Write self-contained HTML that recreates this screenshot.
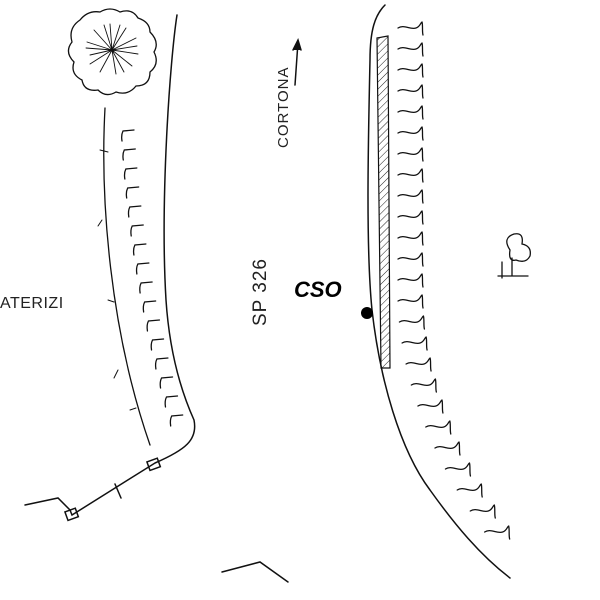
<!DOCTYPE html>
<html><head><style>body{margin:0;background:#fff}svg{display:block}</style></head>
<body>
<svg id="s" width="600" height="600" viewBox="0 0 600 600" xmlns="http://www.w3.org/2000/svg" fill="none" stroke="#111" stroke-width="1.5" stroke-linecap="round">
<defs><pattern id="h" width="5" height="5" patternUnits="userSpaceOnUse" patternTransform="rotate(45)"><line x1="0" y1="0" x2="0" y2="5" stroke="#222" stroke-width="1"/></pattern></defs>
<path d="M80,20 q8,-10 20,-8 q10,-6 20,0 q12,-4 18,6 q12,4 12,14 q10,10 4,20 q6,12 -4,20 q0,14 -14,14 q-8,10 -20,6 q-10,6 -18,-2 q-14,2 -16,-10 q-12,-6 -8,-18 q-10,-10 -2,-20 q-4,-14 8,-22z" stroke-width="1.3"/>
<g stroke-width="0.9"><path d="M112,50 l-25,-8 M112,50 l-22,5 M112,50 l-18,-20 M112,50 l-2,-26 M112,50 l14,-22 M112,50 l24,-12 M112,50 l26,4 M112,50 l20,16 M112,50 l4,24 M112,50 l-12,22 M112,50 l-22,14 M112,50 l-26,-2 M112,50 l8,-25 M112,50 l-8,-25 M112,50 l25,-4 M112,50 l12,22"/></g>
<path d="M177,15 C170,60 160,200 166,300 C170,360 185,400 194,420 C198,440 185,450 155,463 L72,515 L70,510 L58,498 L25,505"/>
<rect x="66" y="510" width="11" height="9" transform="rotate(-20 71 514)"/>
<rect x="148" y="460" width="11" height="9" transform="rotate(-20 153 464)"/>
<path d="M115,484 l6,14"/>
<path d="M105,108 C100,200 110,330 150,445" stroke-width="1.3"/>
<path d="M100,150 l8,2 M102,220 l-4,6 M108,300 l6,2 M118,370 l-4,8 M130,410 l6,-2" stroke-width="1"/>
<g id="lt" stroke-width="1.3"></g>
<path d="M385,5 C375,15 370,30 370,60 C368,150 366,250 372,310 C380,380 400,450 430,490 C455,525 480,555 510,578"/>
<path d="M377,38 L388,36 L390,368 L381,368 Z" fill="url(#h)" stroke-width="1.2"/>
<g id="rt" stroke-width="1.3"></g>
<path d="M222,572 L260,562 L288,582"/>
<path d="M295,85 L298,42"/><path d="M293,50 L298,40 L301,50" fill="#111"/>
<path d="M510,250 q-8,-12 4,-16 q10,-2 8,10 q10,2 8,12 q-4,8 -14,4 q-8,2 -6,-10z M512,258 L512,276 M498,276 L528,276 M502,262 L502,278" stroke-width="1.3"/>
<circle cx="367" cy="313" r="6" fill="#000" stroke="none"/>
<g fill="#222" stroke="none" font-family="Liberation Sans, sans-serif">
<text transform="translate(288,148) rotate(-90)" font-size="15" letter-spacing="1">CORTONA</text>
<text transform="translate(266,326) rotate(-90)" font-size="19" letter-spacing="1">SP 326</text>
<text x="0" y="308" font-size="16" letter-spacing="0.5">ATERIZI</text>
<text x="294" y="297" font-size="22" font-weight="bold" font-style="italic" fill="#000">CSO</text>
</g>
</svg>
<script>
var ns="http://www.w3.org/2000/svg";
var lt=document.getElementById('lt'),rt=document.getElementById('rt');
for(var y=130;y<=432;y+=19){var t=(y-130)/300;var x=120+t*t*35+t*18;var p=document.createElementNS(ns,'path');
p.setAttribute('d','M'+(x+14)+','+y+' l-11,1 q-2,4 -1,10');lt.appendChild(p);}
for(var y=28;y<=552;y+=21){var t=Math.max(0,(y-300)/250);var x=398+t*t*92+t*8;var p=document.createElementNS(ns,'path');
p.setAttribute('d','M'+x+','+y+' c6,-4 12,2 18,0 c4,-1 5,-6 6,-6 c1,3 0,10 1,13');rt.appendChild(p);}
</script>
</body></html>
